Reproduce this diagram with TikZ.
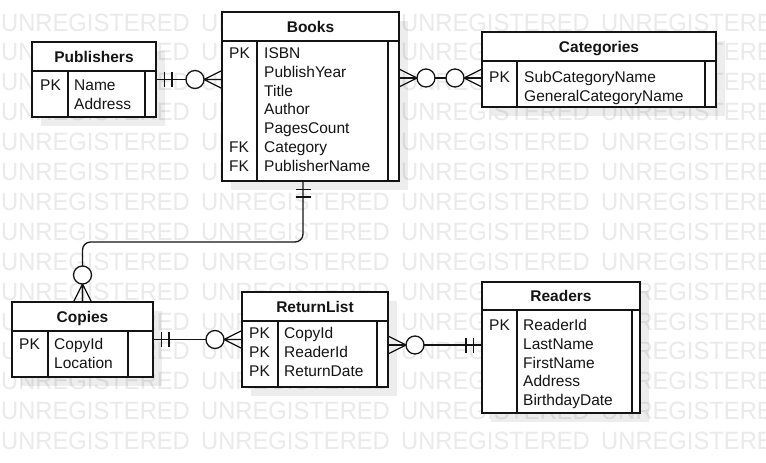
\documentclass[tikz,border=0pt]{standalone}
\usepackage{fontspec}
\setmainfont{Liberation Sans}
\usetikzlibrary{fit}

\definecolor{wmgray}{RGB}{234,234,234}
\definecolor{ink}{RGB}{20,20,20}

\tikzset{
  one/.pic={\draw[rel] (8.5,-7.5) -- (8.5,7.5) (16,-7.5) -- (16,7.5);},
  zmany/.pic={\draw[rel] (0,-9) -- (18,0) -- (0,9) (0,0) -- (18,0);
              \draw[rel, fill=white] (27,0) circle[radius=9];}
}

\newcommand{\entity}[9]{% name, title, left, top, right, bottom, header line, key line, end line
  \fill[black, opacity=0.07] ({#3+9},{#4+9}) rectangle ({#5+9},{#6+9});
  \node[ent, fit={(#3,#4) (#5,#6)}] (#1) {};
  \node[hdr] (#1-title) at ({(#3+#5)/2},{(#4+#7)/2}) {#2};
  \draw[box] (#3,#7) -- (#5,#7) (#8,#7) -- (#8,#6) (#9,#7) -- (#9,#6);
}
\newcommand{\fields}[5]{% name, key x, field x, first row, key/field list
  \foreach \k/\f [count=\i from 0] in {#5}{
    \node[fld] (#1-k\i) at (#2,{#4+\i*18.8}) {\k};
    \node[fld] (#1-f\i) at (#3,{#4+\i*18.8}) {\f};
  }
}

\begin{document}
\begin{tikzpicture}[x=1pt, y=-1pt,
    ent/.style={draw=ink, fill=white, line width=1.3pt, inner sep=0pt, outer sep=0pt},
    box/.style={draw=ink, line width=1.3pt},
    hdr/.style={font=\fontsize{15.5}{18}\selectfont\bfseries, text=ink,
                inner sep=0pt, text height=11pt, text depth=0pt},
    fld/.style={font=\fontsize{15.5}{18}\selectfont, text=ink, anchor=west,
                inner sep=0pt, text height=11pt, text depth=0pt},
    rel/.style={draw=ink, line width=1.3pt},
    wm/.style={font=\fontsize{25}{26}\selectfont, text=wmgray, anchor=west,
               inner sep=0pt, text height=18pt, text depth=0pt}
  ]
  \useasboundingbox (0,0) rectangle (766,463);
  \clip (0,0) rectangle (766,463);
  \fill[white] (0,0) rectangle (766,463);

  % watermark
  \foreach \r in {0,...,14}
    \foreach \c in {0,...,3}
      \node[wm] (wm-\r-\c) at ({\c*200+1},{22+\r*29.9}) {\scalebox{0.95}[1]{UNREGISTERED}};

  % tables
  \entity{pub}{Publishers}{32}{42}{156}{117}{71}{68}{145}
  \fields{pub}{40}{74}{85}{PK/Name, /Address}
  \entity{books}{Books}{222}{12}{399}{181}{41}{257}{388}
  \fields{books}{229}{264}{53}{PK/ISBN, /PublishYear, /Title, /Author, /PagesCount, FK/Category, FK/PublisherName}
  \entity{cat}{Categories}{482}{32}{716}{107}{61}{517}{705}
  \fields{cat}{489}{524}{77}{PK/SubCategoryName, /GeneralCategoryName}
  \entity{copies}{Copies}{12}{302}{153}{377}{331}{48}{128}
  \fields{copies}{19}{54}{344}{PK/CopyId, /Location}
  \entity{ret}{ReturnList}{242}{292}{388}{387}{321}{278}{377}
  \fields{ret}{249}{284}{333}{PK/CopyId, PK/ReaderId, PK/ReturnDate}
  \entity{readers}{Readers}{482}{282}{640}{413}{310}{517}{632}
  \fields{readers}{489}{523}{325}{PK/ReaderId, /LastName, /FirstName, /Address, /BirthdayDate}

  % relations
  \draw[rel] (pub.east) -- (books.west |- pub.east);
  \pic at (pub.east) {one};
  \pic[rotate=180] at (books.west |- pub.east) {zmany};

  \draw[rel] (books.east |- 0,78) -- (cat.west |- 0,78);
  \pic at (books.east |- 0,78) {zmany};
  \pic[rotate=180] at (cat.west |- 0,78) {zmany};

  \draw[rel, rounded corners=8pt] ([xshift=-7.5pt]books.south) |- (copies.north |- 0,242) -- (copies.north);
  \pic[rotate=-90] at ([xshift=-7.5pt]books.south) {one};
  \pic[rotate=90] at (copies.north) {zmany};

  \draw[rel] (copies.east) -- (ret.west |- copies.east);
  \pic at (copies.east) {one};
  \pic[rotate=180] at (ret.west |- copies.east) {zmany};

  \draw[rel] (ret.east |- 0,345) -- (readers.west |- 0,345);
  \pic at (ret.east |- 0,345) {zmany};
  \pic[rotate=180] at (readers.west |- 0,345) {one};
\end{tikzpicture}
\end{document}
